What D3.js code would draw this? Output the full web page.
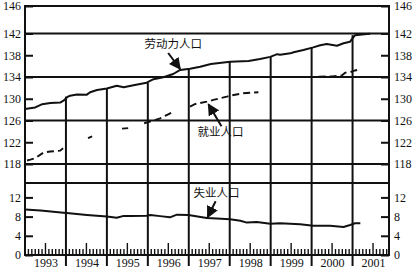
<!DOCTYPE html>
<html><head><meta charset="utf-8">
<script src="https://cdn.jsdelivr.net/npm/d3@7"></script>
<style>html,body{margin:0;padding:0;background:#fff;} svg{display:block;}</style>
</head><body>
<svg id="chart" width="414" height="270"></svg>
<script>
// ---------- data (millions of persons, time in decimal years) ----------
const laborT = [1993.00,1993.25,1993.33,1993.42,1993.62,1993.86,1993.94,1994.05,1994.10,1994.27,1994.51,1994.59,1994.76,1995.00,1995.24,1995.41,1995.65,1995.97,1996.14,1996.38,1996.62,1996.79,1997.03,1997.28,1997.54,1998.01,1998.46,1998.74,1998.99,1999.16,1999.23,1999.48,1999.56,1999.80,2000.04,2000.21,2000.37,2000.62,2000.78,2000.94,2001.06,2001.35,2001.43];
const laborV = [128.1,128.4,128.7,129.0,129.2,129.3,129.65,130.4,130.55,130.8,130.75,131.2,131.6,131.9,132.4,132.1,132.5,132.95,133.6,133.95,134.55,135.3,135.5,135.9,136.4,136.8,136.95,137.3,137.7,138.2,138.1,138.35,138.55,138.95,139.45,139.85,140.05,139.75,140.2,140.5,141.7,141.9,141.95];

const empT = [1993.05,1993.13,1993.25,1993.45,1993.62,1993.86,1993.93, 1994.2, 1994.54,1994.64, 1995.0, 1995.37,1995.52, 1995.7, 1995.91,1996.10,1996.30,1996.46,1996.62, 1996.8, 1997.03,1997.16,1997.44,1997.60,1997.93,1998.01,1998.33,1998.42,1998.70, 1999.5, 2000.17,2000.50,2000.74,2000.82,2000.94,2001.06,2001.16];
const empV = [118.65,118.8,119.06,120.09,120.3,120.45,120.9, null, 122.75,123.1, null, 124.5,124.6, null, 125.5,125.9,126.4,127.0,127.6, null, 128.54,129.04,129.46,129.78,130.38,130.57,131.0,131.05,131.2, null, 134.06,134.1,134.3,134.8,134.85,135.2,135.35];

const unempT = [1993.00,1993.38,1993.94,1994.02,1994.51,1995.00,1995.24,1995.41,1995.58,1995.97,1996.06,1996.30,1996.54,1996.71,1996.99,1997.44,1997.68,1998.01,1998.26,1998.42,1998.66,1998.99,1999.23,1999.72,2000.04,2000.45,2000.78,2000.94,2001.06,2001.19];
const unempV = [9.5,9.25,8.8,8.75,8.35,8.0,7.75,8.15,8.1,8.2,8.33,8.1,7.85,8.4,8.35,7.7,7.6,7.44,7.15,6.75,6.88,6.5,6.6,6.4,6.1,6.1,5.85,6.25,6.6,6.6];

const yearLabels = ["1993","1994","1995","1996","1997","1998","1999","2000","2001"];
const upperTicks = [118,122,126,130,134,138,142,146];
const upperGrid = [118,126,134,142];
const lowerTicks = [0,4,8,12];
const seriesNames = ["劳动力人口","就业人口","失业人口"];

// ---------- layout ----------
const L = 25, R = 389, T = 6, B = 255;
const ink = "#111";
const svg = d3.select("#chart");

const x = d3.scaleLinear().domain([1993, 2001.89]).range([L, R]);
const yU = d3.scaleLinear().domain([118, 142, 146]).range([164, 33.5, T]);
const yL = d3.scaleLinear().domain([0, 15]).range([B, 183]);

const labor = laborT.map((t,i)=>({t, v:laborV[i]}));
const emp = empT.map((t,i)=>({t, v:empV[i]}));
const unemp = unempT.map((t,i)=>({t, v:unempV[i]}));

// horizontal grid lines
svg.append("g").selectAll("line").data(upperGrid).join("line")
  .attr("x1", L).attr("x2", R).attr("y1", d=>yU(d)).attr("y2", d=>yU(d))
  .attr("stroke", ink).attr("stroke-width", 2);
svg.append("line").attr("x1", L).attr("x2", R).attr("y1", yL(15)).attr("y2", yL(15))
  .attr("stroke", ink).attr("stroke-width", 2);

// vertical year lines from labour-force curve down through the axis
const bis = d3.bisector(d=>d.t).left;
const yearsB = d3.range(1994, 2002);
svg.append("g").selectAll("line").data(yearsB).join("line")
  .attr("x1", d=>x(d)).attr("x2", d=>x(d))
  .attr("y1", d=>yU(labor[Math.min(bis(labor, d-0.03), labor.length-1)].v))
  .attr("y2", B + 11)
  .attr("stroke", ink).attr("stroke-width", 2);

// frame
svg.append("path")
  .attr("d", `M${L},${B}V${T}H${R}V${B}Z`)
  .attr("fill","none").attr("stroke", ink).attr("stroke-width", 2);

// monthly ticks at bottom
const months = d3.range(1993*12+1, Math.floor(2001.89*12)+1).filter(m=>m%12!==0);
svg.append("g").selectAll("line").data(months).join("line")
  .attr("x1", m=>x(m/12)).attr("x2", m=>x(m/12))
  .attr("y1", B).attr("y2", m=> B - (m%12===6 ? 12 : 6))
  .attr("stroke", ink).attr("stroke-width", 1.4);

// axes
function styleAxis(g){
  g.select(".domain").remove();
  g.selectAll(".tick line").attr("stroke", ink).attr("stroke-width", 2);
  g.selectAll("text").attr("font-family","'Liberation Serif','Times New Roman',serif")
    .attr("font-size", 12).attr("fill", ink);
}
svg.append("g").attr("transform",`translate(${L},0)`)
  .call(d3.axisLeft(yU).tickValues(upperTicks).tickSizeInner(-8).tickSizeOuter(0).tickPadding(4).tickFormat(d3.format("d"))).call(styleAxis);
svg.append("g").attr("transform",`translate(${L},0)`)
  .call(d3.axisLeft(yL).tickValues(lowerTicks).tickSizeInner(-8).tickSizeOuter(0).tickPadding(4).tickFormat(d3.format("d"))).call(styleAxis);
svg.append("g").attr("transform",`translate(${R},0)`)
  .call(d3.axisRight(yU).tickValues(upperTicks).tickSizeInner(-8).tickSizeOuter(0).tickPadding(5).tickFormat(d3.format("d"))).call(styleAxis);
svg.append("g").attr("transform",`translate(${R},0)`)
  .call(d3.axisRight(yL).tickValues(lowerTicks).tickSizeInner(-8).tickSizeOuter(0).tickPadding(5).tickFormat(d3.format("d"))).call(styleAxis);
svg.append("g").attr("transform",`translate(0,${B})`)
  .call(d3.axisBottom(x).tickValues(yearLabels.map(s=>+s+0.5)).tickSize(0).tickPadding(3)
    .tickFormat((d,i)=>yearLabels[i])).call(styleAxis);

// series lines
const lineU = d3.line().defined(d=>d.v!=null).x(d=>x(d.t)).y(d=>yU(d.v));
const lineL = d3.line().x(d=>x(d.t)).y(d=>yL(d.v));
svg.append("path").datum(labor).attr("d", lineU)
  .attr("fill","none").attr("stroke", ink).attr("stroke-width", 2).attr("stroke-linejoin","round");
svg.append("path").datum(emp).attr("d", lineU)
  .attr("fill","none").attr("stroke", ink).attr("stroke-width", 1.9).attr("stroke-dasharray","7,4");
svg.append("path").datum(unemp).attr("d", lineL)
  .attr("fill","none").attr("stroke", ink).attr("stroke-width", 2).attr("stroke-linejoin","round");

// annotations (anchored to data points)
svg.append("defs").append("marker").attr("id","ah")
  .attr("viewBox","0 0 10 10").attr("refX",9).attr("refY",5)
  .attr("markerWidth",6).attr("markerHeight",6).attr("orient","auto")
  .append("path").attr("d","M0,0L10,5L0,10Z").attr("fill", ink);

const notes = [
  {name: seriesNames[0], tx: x(1996.79), ty: yU(135.47), dx:-12, dy:-16, lx:-7, ly:-26},
  {name: seriesNames[1], tx: x(1997.48), ty: yU(129.0), dx:13, dy:22, lx:12, ly:27},
  {name: seriesNames[2], tx: x(1997.46), ty: yL(7.85), dx:8, dy:-16, lx:9, ly:-25}
];
const ng = svg.append("g");
notes.forEach(n=>{
  ng.append("line").attr("x1", n.tx+n.dx).attr("y1", n.ty+n.dy).attr("x2", n.tx).attr("y2", n.ty)
    .attr("stroke", ink).attr("stroke-width", 2).attr("marker-end","url(#ah)");
  ng.append("text").attr("x", n.tx+n.lx).attr("y", n.ty+n.ly).attr("text-anchor","middle")
    .attr("dominant-baseline","central")
    .attr("font-family","'Noto Sans CJK SC',sans-serif").attr("font-size", 11.5).attr("fill", ink)
    .text(n.name);
});
</script>
</body></html>
